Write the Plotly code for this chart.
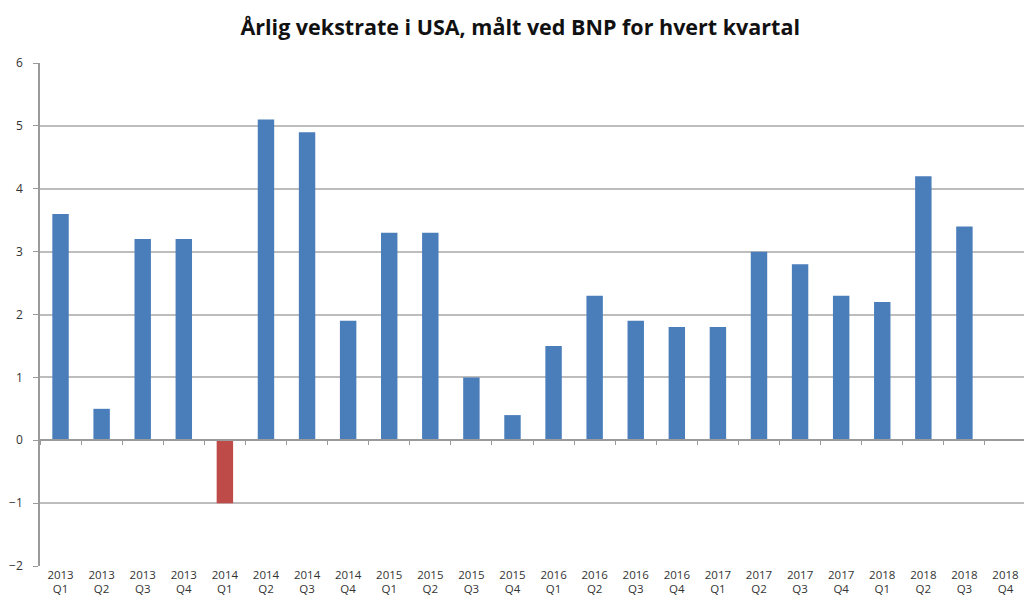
import plotly.graph_objects as go

years = ["2013"]*4 + ["2014"]*4 + ["2015"]*4 + ["2016"]*4 + ["2017"]*4 + ["2018"]*4
quarters = ["Q1", "Q2", "Q3", "Q4"] * 6
categories = [f"{y}<br>{q}" for y, q in zip(years, quarters)]
growth = [3.6, 0.5, 3.2, 3.2, -1.0, 5.1, 4.9, 1.9, 3.3, 3.3, 1.0, 0.4,
          1.5, 2.3, 1.9, 1.8, 1.8, 3.0, 2.8, 2.3, 2.2, 4.2, 3.4, None]
title_text = "Årlig vekstrate i USA, målt ved BNP for hvert kvartal"
y_ticks = [-2, -1, 0, 1, 2, 3, 4, 5, 6]

BLUE = "#4A7EBB"
RED = "#BE4B48"
colors = [RED if (v is not None and v < 0) else BLUE for v in growth]

fig = go.Figure()
fig.add_trace(go.Bar(x=categories, y=growth, marker=dict(color=colors, line=dict(width=0)),
                     showlegend=False, hoverinfo="x+y"))
fig.add_trace(go.Scatter(x=categories, y=[None]*len(categories), xaxis="x2", yaxis="y",
                         showlegend=False, hoverinfo="skip"))

fig.update_layout(
    width=1024, height=615,
    margin=dict(l=40, r=0, t=63, b=49, autoexpand=False),
    paper_bgcolor="white", plot_bgcolor="white",
    bargap=0.6,
    title=dict(text=f"<b>{title_text}</b>", x=0.508, xanchor="center", y=0.955, yanchor="middle",
               font=dict(family="Open Sans", size=21.5, color="#111111")),
    font=dict(family="Open Sans", size=12, color="#333333"),
    xaxis=dict(type="category", categoryorder="array", categoryarray=categories,
               range=[-0.5, 23.45], showgrid=False, showline=False, ticks="",
               tickfont=dict(size=11.5, color="#333333"), zeroline=False, automargin=False),
    xaxis2=dict(type="category", overlaying="x", anchor="free", position=0.25, matches="x",
                showticklabels=False, ticks="outside", tickson="boundaries", ticklen=4,
                tickcolor="#9a9a9a", showline=True, linecolor="#9a9a9a", linewidth=1.5,
                showgrid=False, zeroline=False, automargin=False),
    yaxis=dict(range=[-2, 6], tickvals=y_ticks, showgrid=True, gridcolor="#bdbdbd", gridwidth=1.5,
               zeroline=False, showline=True, linecolor="#9a9a9a", linewidth=1.5,
               ticks="outside", ticklen=5, tickcolor="#9a9a9a", automargin=False,
               ticklabelstandoff=8,
               tickfont=dict(size=12, color="#333333")),
)

fig.write_html("out.html", config={"displayModeBar": False},
               post_script="document.body.style.margin='0';document.body.style.overflow='hidden';")
